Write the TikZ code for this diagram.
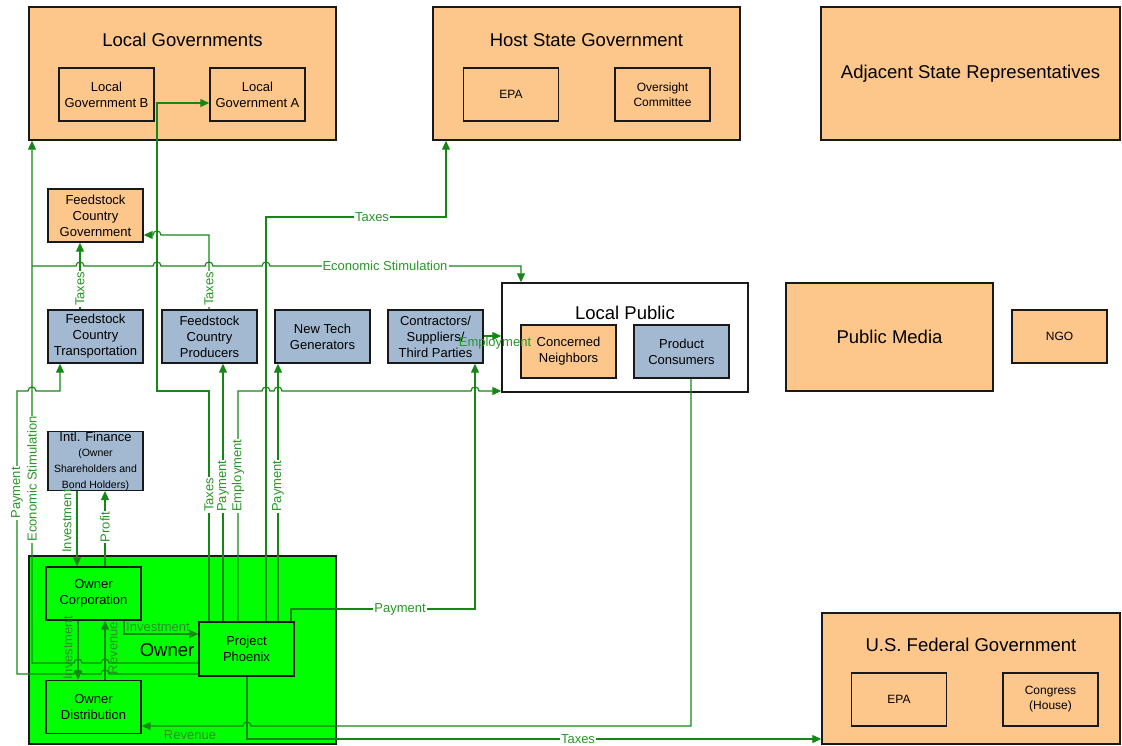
\documentclass[tikz,border=0pt]{standalone}
\usepackage{fontspec}
\setmainfont{Liberation Sans}
\usetikzlibrary{arrows.meta}

\definecolor{orgfill}{RGB}{253,199,140}
\definecolor{bluefill}{RGB}{163,185,209}
\definecolor{ownfill}{RGB}{0,255,0}
\definecolor{wire}{RGB}{22,135,22}
\definecolor{wiretext}{RGB}{40,150,40}
\definecolor{wiredim}{RGB}{45,140,45}

% line jumps over crossing wires (rightward / leftward)
\newcommand\hopR[2]{-- ({#1-4},#2) .. controls ({#1-4},{#2-5.3}) and ({#1+4},{#2-5.3}) .. ({#1+4},#2)}
\newcommand\hopL[2]{-- ({#1+4},#2) .. controls ({#1+4},{#2-5.3}) and ({#1-4},{#2-5.3}) .. ({#1-4},#2)}
\newcommand\smallf{\fontsize{10.5}{13}\selectfont}

\begin{document}
\begin{tikzpicture}[x=1pt,y=-1pt,
  box/.style={draw=black!90, line width=1.4pt, inner sep=0pt, align=center,
              font=\fontsize{13}{16}\selectfont},
  orgbox/.style={box, fill=orgfill},
  bluebox/.style={box, fill=bluefill},
  unit/.style={minimum width=95pt, minimum height=53pt},
  title/.style={inner sep=0pt, font=\fontsize{18.5}{22}\selectfont},
  small/.style={font=\fontsize{12}{15}\selectfont},
  wireline/.style={draw=wire, line width=1.2pt},
  conn/.style={wireline, -{Triangle[length=9pt,width=8pt]}},
  lbl/.style={text=wiretext, fill=white, inner sep=1pt, font=\fontsize{13}{15}\selectfont},
  lbldim/.style={text=wiredim, inner sep=0.5pt, font=\fontsize{13}{15}\selectfont},
]
\useasboundingbox (0,0) rectangle (1122,745);

% ---------- government groups ----------
\node[orgbox, minimum width=307pt, minimum height=133pt] (LG) at (182.5,73.5) {};
\node[title] (LGt) at (182.5,40) {Local Governments};
\node[orgbox, unit] (LGB) at (106.5,94.5) {Local\\Government B};
\node[orgbox, unit] (LGA) at (257.5,94.5) {Local\\Government A};

\node[orgbox, minimum width=307pt, minimum height=133pt] (HSG) at (586.5,73.5) {};
\node[title] (HSGt) at (586.5,40) {Host State Government};
\node[orgbox, unit, small] (HEPA) at (511,94.5) {EPA};
\node[orgbox, unit, small] (HOC) at (662.5,94.5) {Oversight\\Committee};

\node[orgbox, minimum width=299pt, minimum height=133pt, font=\fontsize{18.5}{22}\selectfont] (ASR) at (970.5,73.5) {Adjacent State Representatives};

% ---------- feedstock side ----------
\node[orgbox, unit] (FCG) at (95.5,215.5) {Feedstock\\Country\\Government};
\node[bluebox, unit] (FCT) at (95.5,336.5) {Feedstock\\Country\\Transportation};
\node[bluebox, unit] (FCP) at (209.5,336.5) {Feedstock\\Country\\Producers};
\node[bluebox, unit] (NTG) at (322.5,336.5) {New Tech\\Generators};
\node[bluebox, unit] (CSP) at (435.5,336.5) {Contractors/\\Suppliers/\\Third Parties};

% ---------- public ----------
\node[box, fill=white, minimum width=246pt, minimum height=109pt] (LP) at (625,337.5) {};
\node[title] (LPt) at (625,313) {Local Public};
\node[orgbox, unit] (CN) at (568.5,351.5) {Concerned\\Neighbors};
\node[bluebox, unit] (PC) at (681.5,351.5) {Product\\Consumers};

\node[orgbox, minimum width=207pt, minimum height=108pt, font=\fontsize{18.5}{22}\selectfont] (PM) at (889.5,337) {Public Media};
\node[orgbox, unit, small] (NGO) at (1059.5,336.5) {NGO};

% ---------- finance and owner ----------
\node[bluebox, minimum width=95pt, minimum height=54pt] (IF) at (95.5,461)
  {Intl. Finance\\[-1pt]\smallf (Owner\\\smallf Shareholders and\\\smallf Bond Holders)};

\node[box, fill=ownfill, minimum width=307pt, minimum height=188pt] (OWN) at (182.5,650) {};
\node[title] (OWNt) at (167,650) {Owner};
\node[box, fill=ownfill, unit] (OC) at (93.5,593.5) {Owner\\Corporation};
\node[box, fill=ownfill, unit] (OD) at (93.5,707) {Owner\\Distribution};
\node[box, fill=ownfill, unit, minimum height=54pt] (PP) at (246.5,649) {Project\\Phoenix};

% ---------- federal ----------
\node[orgbox, minimum width=298pt, minimum height=131pt] (USF) at (971,678.5) {};
\node[title] (USFt) at (971,645) {U.S. Federal Government};
\node[orgbox, unit, small] (UEPA) at (899,699.5) {EPA};
\node[orgbox, unit, small] (UCON) at (1050.5,699.5) {Congress\\(House)};

% ---------- money and benefit flows ----------
% finance <-> owner corporation
\draw[conn] (77,0 |- IF.south) -- (77,0 |- OC.north);
\node[lbldim, text=wiretext, rotate=90] (lInv1) at (67,521) {Investment};
\draw[conn] (105,0 |- OC.north) -- (105,0 |- IF.south);
\node[lbl, rotate=90] (lProfit) at (105,527) {Profit};

% corporation <-> distribution
\draw[conn] (78,0 |- OC.south) -- (78,0 |- OD.north);
\node[lbldim, rotate=90] (lInv2) at (68,648) {Investment};
\draw[conn] (105,0 |- OD.north) -- (105,0 |- OC.south);
\node[lbldim, rotate=90] (lRev1) at (113,648) {Revenue};

% corporation -> project
\draw[conn] (124,0 |- OC.south) -- (124,634) -- (PP.west |- 0,634);
\node[lbldim] (lInv3) at (158,627) {Investment};

% economic stimulation to local governments and local public
\draw[conn] (PP.west |- 0,663) \hopL{105}{663} \hopL{78}{663} -- (32,663) -- (32,0 |- LG.south);
\node[lbl, rotate=90] (lEcon1) at (32,479) {Economic Stimulation};
\coordinate (ecoJ) at (32,266);
\draw[conn] (ecoJ) \hopR{80}{266} \hopR{157}{266} \hopR{209}{266} \hopR{266}{266} -- (521,266) -- (521,0 |- LP.north);
\node[lbl] (lEcon2) at (385,266) {Economic Stimulation};

% payment to feedstock transportation
\draw[conn] (PP.west |- 0,674) \hopL{105}{674} \hopL{78}{674} -- (17,674) -- (17,391) \hopR{32}{391} -- (60,391) -- (60,0 |- FCT.south);
\node[lbl, rotate=90] (lPay1) at (17,493) {Payment};

% feedstock taxes
\draw[conn] (80,0 |- FCT.north) -- (80,0 |- FCG.south);
\node[lbl, rotate=90] (lTax1) at (80,289) {Taxes};
\draw[conn] (209,0 |- FCP.north) -- (209,235) \hopL{157}{235} -- (FCG.east |- 0,235);
\node[lbl, rotate=90] (lTax2) at (209,289) {Taxes};

% project taxes to local government A
\draw[conn] (209,0 |- PP.north) -- (209,391) -- (157,391) -- (157,103) -- (LGA.west |- 0,103);
\node[lbl, rotate=90, anchor=west] (lTax3) at (209,513) {Taxes};

% project payment to producers
\draw[conn] (223,0 |- PP.north) -- (223,0 |- FCP.south);
\node[lbl, rotate=90, anchor=west] (lPay2) at (223,513) {Payment};

% project employment to local public
\draw[conn] (238,0 |- PP.north) -- (238,391) \hopR{266}{391} \hopR{278}{391} \hopR{475}{391} -- (LP.west |- 0,391);
\node[lbl, rotate=90, anchor=west] (lEmp1) at (238,513) {Employment};

% project taxes to host state
\draw[conn] (266,0 |- PP.north) -- (266,217) -- (446,217) -- (446,0 |- HSG.south);
\node[lbl] (lTax4) at (372,217) {Taxes};

% project payment to new tech generators
\draw[conn] (278,0 |- PP.north) -- (278,0 |- NTG.south);
\node[lbl, rotate=90, anchor=west] (lPay3) at (278,513) {Payment};

% project payment to contractors
\draw[conn] (291,0 |- PP.north) -- (291,609) -- (475,609) -- (475,0 |- CSP.south);
\node[lbl] (lPay4) at (400,609) {Payment};

% contractors employment to local public
\draw[conn] (CSP.east |- 0,336) -- (LP.west |- 0,336);
\node[text=wiretext, inner sep=0pt, font=\fontsize{13}{15}\selectfont] (lEmp2) at (495,343) {Employment};

% consumers revenue to owner distribution
\draw[conn] (691,0 |- PC.south) -- (691,726) \hopL{247}{726} -- (OD.east |- 0,726);
\node[lbldim] (lRev2) at (190,735) {Revenue};

% project taxes to federal government
\draw[conn] (247,0 |- PP.south) -- (247,739) -- (USF.west |- 0,739);
\node[lbl] (lTax5) at (578,739) {Taxes};

\end{tikzpicture}
\end{document}
